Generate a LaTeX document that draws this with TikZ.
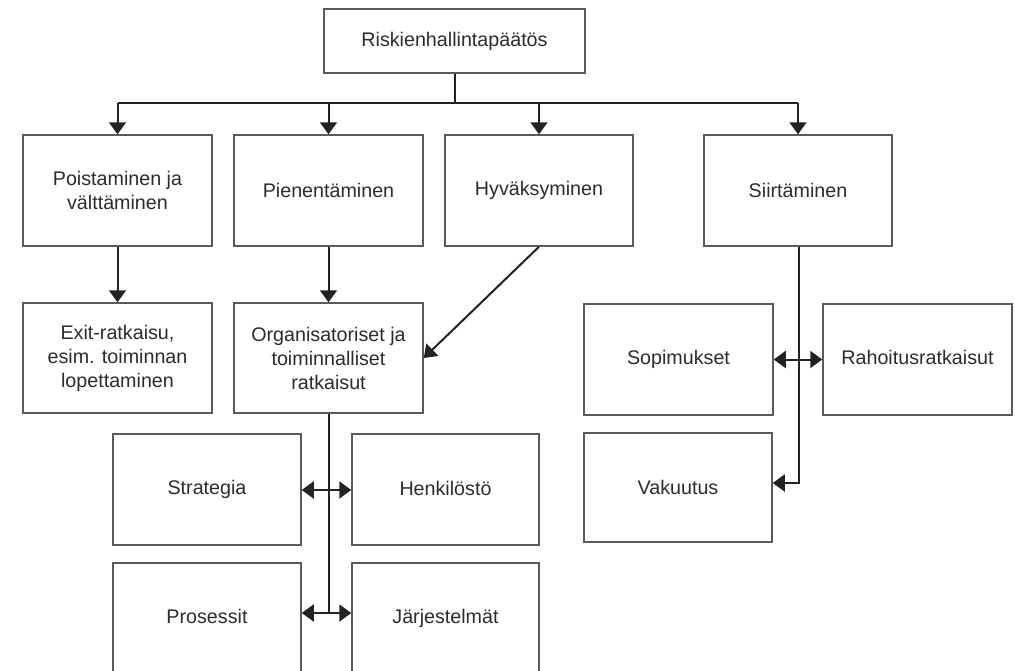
\documentclass[tikz,border=0pt]{standalone}
\usepackage{fontspec}
\setmainfont{Liberation Sans}
\usetikzlibrary{arrows.meta}
\definecolor{boxline}{HTML}{5A5A5A}
\definecolor{conn}{HTML}{222222}
\definecolor{txt}{HTML}{2C2C2C}
\begin{document}
\begin{tikzpicture}[x=1pt,y=-1pt,
  box/.style={draw=boxline,line width=1.5pt,rectangle,inner sep=0pt,
    align=center,text=txt,font=\fontsize{19.7}{24}\selectfont},
  conn/.style={draw=conn,line width=2pt},
  tip/.style={-{Triangle[width=17pt,length=12pt]}},
  dtip/.style={{Triangle[width=17pt,length=12pt]}-{Triangle[width=17pt,length=12pt]}}]
\useasboundingbox (0,0) rectangle (1015,670);
\clip (0,0) rectangle (1015,670);
\fill[white] (0,0) rectangle (1015,670);
% nodes
\node[box,minimum width=261pt,minimum height=64pt] (top) at (454.5,41) {Riskienhallintapäätös};
\node[box,minimum width=189pt,minimum height=111pt] (p1) at (117.5,190.5) {Poistaminen ja\\välttäminen};
\node[box,minimum width=189pt,minimum height=111pt] (p2) at (328.5,190.5) {Pienentäminen};
\node[box,minimum width=188pt,minimum height=111pt] (p3) at (539,190.5) {Hyväksyminen};
\node[box,minimum width=188pt,minimum height=111pt] (p4) at (798,190.5) {Siirtäminen};
\node[box,minimum width=189pt,minimum height=110pt] (exit) at (117.5,358) {Exit-ratkaisu,\\esim. toiminnan\\lopettaminen};
\node[box,minimum width=189pt,minimum height=110pt] (org) at (328.5,358) {Organisatoriset ja\\toiminnalliset\\ratkaisut};
\node[box,minimum width=189pt,minimum height=111pt] (sop) at (678.5,359.5) {Sopimukset};
\node[box,minimum width=189pt,minimum height=111pt] (rah) at (917.5,359.5) {\raisebox{4pt}{Rahoitusratkaisut}};
\node[box,minimum width=188pt,minimum height=109pt] (vak) at (678,487.5) {Vakuutus};
\node[box,minimum width=188pt,minimum height=111pt] (str) at (207,489.5) {\raisebox{3pt}{Strategia}};
\node[box,minimum width=187pt,minimum height=111pt] (hen) at (445.5,489.5) {\raisebox{3pt}{Henkilöstö}};
\node[box,minimum width=188pt,minimum height=111pt] (pro) at (207,618.5) {\raisebox{4pt}{Prosessit}};
\node[box,minimum width=187pt,minimum height=111pt] (jar) at (445.5,618.5) {\raisebox{4pt}{Järjestelmät}};
% connectors
\coordinate (bus) at (454.5,103);
\draw[conn] (top.south) -- (bus);
\draw[conn] (p1.north |- bus) -- (p4.north |- bus);
\draw[conn,tip] (p1.north |- bus) -- (p1.north);
\draw[conn,tip] (p2.north |- bus) -- (p2.north);
\draw[conn,tip] (p3.north |- bus) -- (p3.north);
\draw[conn,tip] (p4.north |- bus) -- (p4.north);
\draw[conn,tip] (p1.south) -- (exit.north);
\draw[conn,tip] (p2.south) -- (org.north);
\draw[conn,tip] (p3.south) -- (org.east);
% organisational branch
\coordinate (j1) at (328.5,490);
\coordinate (j2) at (328.5,613);
\draw[conn] (org.south) -- (j2);
\draw[conn,dtip] (str.east |- j1) -- (hen.west |- j1);
\draw[conn,dtip] (pro.east |- j2) -- (jar.west |- j2);
% transfer branch
\coordinate (vk) at (799,483);
\draw[conn,tip] (p4.south -| vk) -- (vk) -- (vak.east |- vk);
\draw[conn,dtip] (sop.east) -- (rah.west);
\end{tikzpicture}
\end{document}
